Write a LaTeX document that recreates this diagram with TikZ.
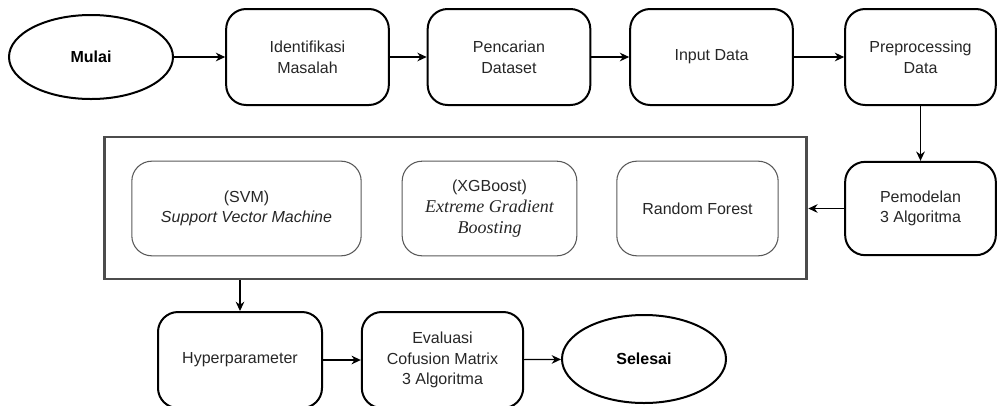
\documentclass[tikz,border=0pt]{standalone}
\usepackage{fontspec}
\setmainfont{Liberation Sans}
\newfontfamily\serifmiring{Liberation Serif}
\usetikzlibrary{arrows.meta}
\usetikzlibrary{shapes.geometric}
\newcommand{\istilah}[1]{\textit{#1}}
\newcommand{\istilahserif}[1]{{\serifmiring\itshape\fontsize{13.5}{15.5}\selectfont #1}}
\tikzset{
  kotak/.style={draw, line width=1.5pt, rounded corners=15pt, align=center, minimum width=#1, minimum height=72pt, inner sep=2pt, text=black!85, font=\fontsize{12}{15.5}\selectfont},
  kotak/.default=122pt,
  algo/.style={draw=black!65, line width=0.8pt, rounded corners=15pt, align=center, minimum width=#1, minimum height=71pt, inner sep=2pt, text=black!85, font=\fontsize{12}{15.5}\selectfont},
  algo/.default=120pt,
  elips/.style={draw, ellipse, line width=1.5pt, minimum width=123pt, minimum height=63pt, inner sep=0pt, font=\fontsize{12}{15.5}\selectfont\bfseries},
  wadah/.style={draw=black!70, line width=2.2pt, minimum width=527pt, minimum height=106.5pt, inner sep=0pt},
  panah/.style={-{Stealth[length=7pt,width=6.5pt]}, line width=0.9pt},
}

\begin{document}
\begin{tikzpicture}[x=0.75pt, y=-0.75pt]
  \useasboundingbox (0,0) rectangle (997,405);
  % baris atas
  \node[elips] (mulai) at (91,57) {Mulai};
  \node[kotak] (identifikasi) at (307.5,57) {Identifikasi\\Masalah};
  \node[kotak] (pencarian) at (509,57) {Pencarian\\Dataset};
  \node[kotak] (input) at (711.5,57) {Input Data};
  \node[kotak=113pt] (preprocessing) at (920.5,57) {Preprocessing\\Data};
  % pemodelan dan wadah algoritma
  \node[kotak=113pt, minimum height=70pt] (pemodelan) at (920.5,208.5) {Pemodelan\\3 Algoritma};
  \node[wadah] (algoritma) at (455.5,208) {};
  \node[algo=172pt] (svm) at (246.5,208.5) {(SVM)\\\istilah{Support Vector Machine}};
  \node[algo=131pt] (xgboost) at (489.5,208.5) {(XGBoost)\\\istilahserif{Extreme Gradient}\\\istilahserif{Boosting}};
  \node[algo=121pt] (rf) at (697.5,208.5) {Random Forest};
  % baris bawah
  \node[kotak=123pt] (hyper) at (240,360) {Hyperparameter};
  \node[kotak=121pt] (evaluasi) at (442.5,360) {Evaluasi\\Cofusion Matrix\\3 Algoritma};
  \node[elips, minimum height=66pt] (selesai) at (644,359) {Selesai};
  % alur
  \draw[panah] (mulai) -- (identifikasi);
  \draw[panah] (identifikasi) -- (pencarian);
  \draw[panah] (pencarian) -- (input);
  \draw[panah] (input) -- (preprocessing);
  \draw[panah] (preprocessing) -- (pemodelan);
  \draw[panah] (pemodelan.west) -- (pemodelan.west -| algoritma.east);
  \draw[panah] (algoritma.south -| hyper.north) -- (hyper.north);
  \draw[panah] (hyper) -- (evaluasi);
  \draw[panah] (evaluasi) -- (selesai);
\end{tikzpicture}
\end{document}
